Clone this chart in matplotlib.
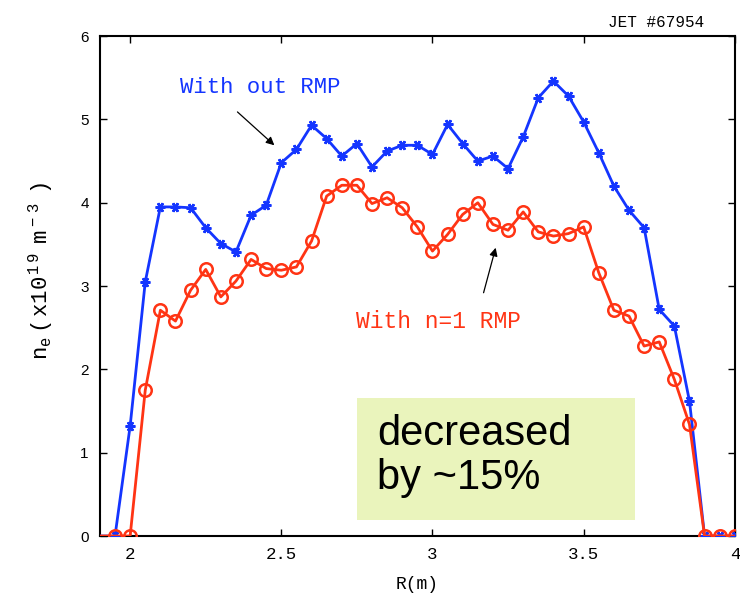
import matplotlib
matplotlib.use("Agg")
import matplotlib.pyplot as plt

# Major radius grid (m)
R = [1.85, 1.95, 2.00, 2.05, 2.10, 2.15, 2.20, 2.25, 2.30, 2.35, 2.40,
     2.45, 2.50, 2.55, 2.60, 2.65, 2.70, 2.75, 2.80, 2.85, 2.90,
     2.95, 3.00, 3.05, 3.10, 3.15, 3.20, 3.25, 3.30, 3.35, 3.40,
     3.45, 3.50, 3.55, 3.60, 3.65, 3.70, 3.75, 3.80, 3.85, 3.90,
     3.95, 4.00]

# Density without RMP (10^19 m^-3)
ne_no_rmp = [0, 0, 1.32, 3.05, 3.95, 3.95, 3.94, 3.70, 3.51, 3.41, 3.85,
             3.97, 4.48, 4.64, 4.93, 4.77, 4.56, 4.71, 4.43, 4.62, 4.69,
             4.69, 4.58, 4.94, 4.71, 4.50, 4.56, 4.41, 4.79, 5.26, 5.46,
             5.28, 4.97, 4.60, 4.20, 3.91, 3.70, 2.72, 2.52, 1.62, 0,
             0, 0]

# Density with n=1 RMP (10^19 m^-3)
ne_rmp = [0, 0, 0, 1.75, 2.71, 2.58, 2.95, 3.20, 2.87, 3.06, 3.32,
          3.21, 3.19, 3.23, 3.54, 4.08, 4.21, 4.21, 3.99, 4.06, 3.94,
          3.71, 3.42, 3.62, 3.86, 4.00, 3.74, 3.67, 3.89, 3.65, 3.60,
          3.63, 3.71, 3.16, 2.71, 2.64, 2.28, 2.33, 1.88, 1.34, 0,
          0, 0]

x_ticks = [2, 2.5, 3, 3.5, 4]
x_tick_labels = ["2", "2.5", "3", "3.5", "4"]
y_ticks = [0, 1, 2, 3, 4, 5, 6]

BLUE = "#1435ff"
RED = "#ff3414"
MONO = "Liberation Mono"
SANS = "Liberation Sans"

plt.rcParams["mathtext.fontset"] = "custom"
plt.rcParams["mathtext.rm"] = MONO
plt.rcParams["mathtext.it"] = MONO
plt.rcParams["mathtext.tt"] = MONO

fig = plt.figure(figsize=(7.40, 6.02), dpi=100)
ax = fig.add_axes([0.135, 0.1096, 0.858, 0.8304])

ax.plot(R, ne_no_rmp, color=BLUE, lw=2.0, marker=(6, 2, 90), ms=7,
        mew=1.8, mec=BLUE, zorder=3)
ax.plot(R, ne_rmp, color=RED, lw=2.0, marker="o", ms=9, mfc="none",
        mew=1.8, mec=RED, zorder=4)

ax.set_xlim(1.9, 4.0)
ax.set_ylim(0, 6)
ax.set_xticks(x_ticks)
ax.set_xticklabels(x_tick_labels, fontfamily=MONO, fontsize=12.5)
ax.set_yticks(y_ticks)
ax.set_yticklabels([str(v) for v in y_ticks], fontfamily=SANS, fontsize=11)
ax.tick_params(direction="in", length=5, width=1, top=True, right=True, pad=8)
for s in ax.spines.values():
    s.set_linewidth(1.5)

ax.set_xlabel("R(m)", fontfamily=MONO, fontsize=13, labelpad=10)
ax.set_ylabel(r"$\mathrm{n_{e}\ (\,x10^{\,1\ 9}\ \ m^{\,-\ 3}\ \ )}$",
              fontsize=16)
ax.yaxis.set_label_coords(-0.07, 0.53)

fig.text(0.952, 0.962, "JET #67954", fontfamily=MONO, fontsize=11.5,
         ha="right", va="center")

ax.text(2.43, 5.38, "With out RMP", color=BLUE, fontfamily=MONO,
        fontsize=16, ha="center", va="center")
ax.text(3.02, 2.57, "With n=1 RMP", color=RED, fontfamily=MONO,
        fontsize=16.5, ha="center", va="center")

ax.annotate("", xy=(2.477, 4.69), xytext=(2.355, 5.09),
            arrowprops=dict(arrowstyle="-|>", color="black", lw=0.9,
                            mutation_scale=12, shrinkA=0, shrinkB=0))
ax.annotate("", xy=(3.209, 3.46), xytext=(3.169, 2.92),
            arrowprops=dict(arrowstyle="-|>", color="black", lw=0.9,
                            mutation_scale=12, shrinkA=0, shrinkB=0))

# Highlight box with the summary statement
ax.add_patch(plt.Rectangle((2.751, 0.192), 0.92, 1.465, facecolor="#eaf4bc",
                           edgecolor="none", zorder=2))
ax.text(2.817, 1.09, "decreased", fontfamily=SANS, fontsize=30,
        ha="left", va="baseline", zorder=5)
ax.text(2.817, 0.56, "by ~15%", fontfamily=SANS, fontsize=30,
        ha="left", va="baseline", zorder=5)

fig.savefig("out.png", dpi=100)
